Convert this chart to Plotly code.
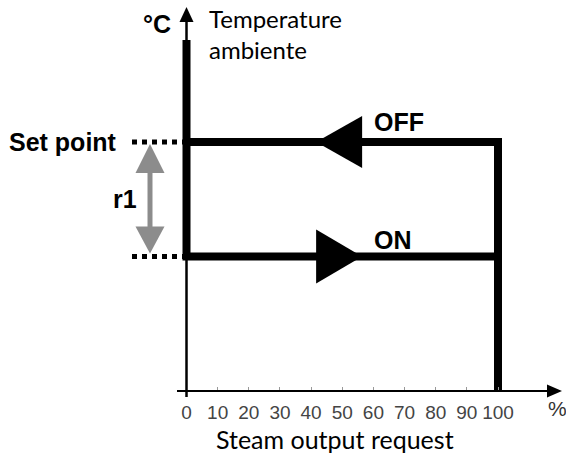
import plotly.graph_objects as go

# ---------------- data ----------------
X_TICKS = [0, 10, 20, 30, 40, 50, 60, 70, 80, 90, 100]   # steam output request (%)
OUTPUT_MIN = 0
OUTPUT_MAX = 100
SET_POINT = 20.0      # °C (schematic)
R1 = 9.2              # hysteresis differential (°C, schematic)
ON_POINT = SET_POINT - R1
Y_MAX = 28.2          # top of the thick vertical segment (°C, schematic)
ARROW_MID = 49.0      # position of the direction arrows along the lines (%)

# ---------------- geometry helpers ----------------
W, H = 566, 454
X0_PX, X_SCALE = 186.5, 3.115     # px of x=0, px per %
Y0_PX, Y_SCALE = 391.0, 12.45     # px of y=0, px per °C
x_range = [-X0_PX / X_SCALE, (W - X0_PX) / X_SCALE]
y_range = [-(H - Y0_PX) / Y_SCALE, Y0_PX / Y_SCALE]


def dx(p):
    return p / X_SCALE


def dy(p):
    return p / Y_SCALE


def tri(tip, base, half, vertical=False):
    """Triangle path; tip/base are coordinates along the direction, half across."""
    if vertical:
        (cx, ty), by = tip, base
        return f"M {cx},{ty} L {cx - half},{by} L {cx + half},{by} Z"
    (tx, cy), bx = tip, base
    return f"M {tx},{cy} L {bx},{cy - half} L {bx},{cy + half} Z"


fig = go.Figure()

BLACK = "#000000"
GREY = "#8c8c8c"
BOLD = "Liberation Sans"
SOFT = "Lato"

# hysteresis path (thick)
fig.add_trace(go.Scatter(
    x=[OUTPUT_MIN, OUTPUT_MIN, OUTPUT_MAX, OUTPUT_MAX],
    y=[Y_MAX, ON_POINT, ON_POINT, ON_POINT],
    mode="lines", line=dict(color=BLACK, width=8), hoverinfo="skip", showlegend=False))
fig.add_trace(go.Scatter(
    x=[OUTPUT_MIN, OUTPUT_MAX, OUTPUT_MAX],
    y=[SET_POINT, SET_POINT, 0],
    mode="lines", line=dict(color=BLACK, width=8), hoverinfo="skip", showlegend=False))

shapes = []
# y axis thin line + arrow
y_tip = y_range[1] - dy(7)
y_base = y_tip - dy(15)
shapes.append(dict(type="line", x0=0, x1=0, y0=-dy(6), y1=y_base,
                   line=dict(color=BLACK, width=2.5)))
shapes.append(dict(type="path", path=tri((0, y_tip), y_base, dx(7), vertical=True),
                   fillcolor=BLACK, line=dict(width=0)))
# x axis line + arrow
x_tip = x_range[1] - dx(4)
x_base = x_tip - dx(15)
shapes.append(dict(type="line", x0=-dx(9.5), x1=x_base, y0=0, y1=0,
                   line=dict(color=BLACK, width=2)))
shapes.append(dict(type="path", path=tri((x_tip, 0), x_base, dy(6.5)),
                   fillcolor=BLACK, line=dict(width=0)))
# direction arrows on the hysteresis lines
half_len = dx(23)
shapes.append(dict(type="path",
                   path=tri((ARROW_MID - half_len, SET_POINT), ARROW_MID + half_len, dy(26)),
                   fillcolor=BLACK, line=dict(width=0)))
shapes.append(dict(type="path",
                   path=tri((ARROW_MID + half_len, ON_POINT), ARROW_MID - half_len, dy(27)),
                   fillcolor=BLACK, line=dict(width=0)))
# dotted level lines
for lvl in (SET_POINT, ON_POINT):
    shapes.append(dict(type="line", x0=-dx(54.5), x1=-dx(3), y0=lvl, y1=lvl,
                       line=dict(color=BLACK, width=5, dash="dot")))
# grey r1 double arrow
gx = -dx(36.5)
top_tip = SET_POINT - dy(2)
bot_tip = ON_POINT + dy(3)
shapes.append(dict(type="line", x0=gx, x1=gx, y0=bot_tip + dy(10), y1=top_tip - dy(10),
                   line=dict(color=GREY, width=5)))
shapes.append(dict(type="path", path=tri((gx, top_tip), top_tip - dy(29), dx(14.5), vertical=True),
                   fillcolor=GREY, line=dict(width=0)))
shapes.append(dict(type="path", path=tri((gx, bot_tip), bot_tip + dy(27), dx(14.5), vertical=True),
                   fillcolor=GREY, line=dict(width=0)))

annotations = [
    dict(x=-dx(68), y=SET_POINT, text="<b>Set point</b>", xanchor="right", yanchor="middle",
         font=dict(family=BOLD, size=25, color=BLACK)),
    dict(x=-dx(62), y=(SET_POINT + ON_POINT) / 2, text="<b>r1</b>", xanchor="center", yanchor="middle",
         font=dict(family=BOLD, size=25, color=BLACK)),
    dict(x=dx(185.5), y=SET_POINT + dy(20), text="<b>OFF</b>", xanchor="left", yanchor="middle",
         font=dict(family=BOLD, size=25, color=BLACK)),
    dict(x=dx(185.5), y=ON_POINT + dy(17), text="<b>ON</b>", xanchor="left", yanchor="middle",
         font=dict(family=BOLD, size=25, color=BLACK)),
    dict(x=-dx(29.5), y=y_range[1] - dy(24), text="<b>°C</b>", xanchor="center", yanchor="middle",
         font=dict(family=BOLD, size=25, color=BLACK)),
    dict(x=dx(20), y=y_range[1] - dy(2), text="Temperature<br>ambiente", xanchor="left", yanchor="top",
         align="left", font=dict(family=SOFT, size=24, color=BLACK)),
    dict(x=x_range[1] - dx(9), y=-dy(17), text="%", xanchor="center", yanchor="middle",
         font=dict(family=BOLD, size=21, color="#333333")),
    dict(x=dx(148.5), y=-dy(48), text="Steam output request", xanchor="center", yanchor="middle",
         font=dict(family=SOFT, size=25, color=BLACK)),
]
for a in annotations:
    a["showarrow"] = False

fig.update_layout(
    width=W, height=H,
    margin=dict(l=0, r=0, t=0, b=0, autoexpand=False),
    paper_bgcolor="white", plot_bgcolor="white",
    showlegend=False,
    shapes=shapes, annotations=annotations,
    xaxis=dict(range=x_range, showgrid=False, zeroline=False, showline=False,
               anchor="free", position=(H - Y0_PX) / H, automargin=False,
               tickmode="array", tickvals=X_TICKS, ticktext=[str(v) for v in X_TICKS],
               ticks="inside", ticklen=4, tickcolor="#999999", tickwidth=1,
               ticklabelstandoff=8,
               tickfont=dict(family=BOLD, size=19, color="#444444")),
    yaxis=dict(range=y_range, showgrid=False, zeroline=False, showline=False,
               showticklabels=False, ticks="", automargin=False),
)

fig.write_html("out.html", config={"displayModeBar": False},
               post_script="document.body.style.margin='0';")
